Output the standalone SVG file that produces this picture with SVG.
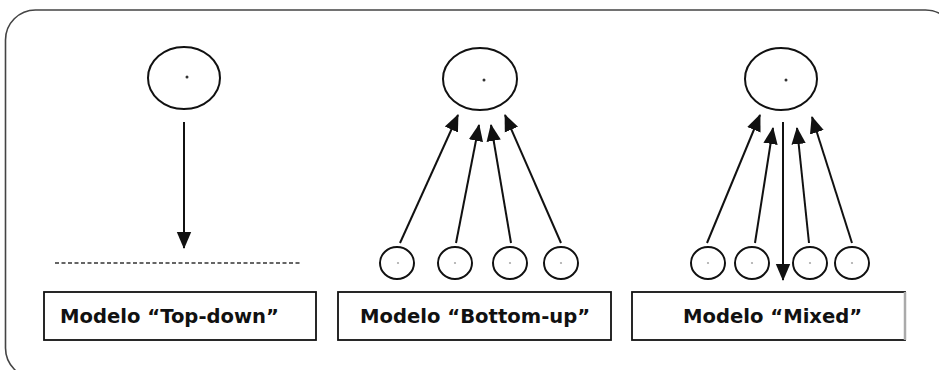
<svg xmlns="http://www.w3.org/2000/svg" width="939" height="370" viewBox="0 0 939 370">
<style>
.frame{fill:none;stroke:#444;stroke-width:1.6}
.node{fill:none;stroke:#111;stroke-width:2}
.dot{fill:#333}
.sdot{fill:#aaa}
.box{fill:#fff;stroke:#111;stroke-width:1.8}
.lbl{font-family:"DejaVu Sans",Verdana,sans-serif;font-weight:bold;font-size:19.6px;fill:#111}
.conn{stroke:#111;stroke-width:2;fill:none;marker-end:url(#ah)}
.dash{stroke:#333;stroke-width:1.4;stroke-dasharray:4 2.5}
</style>
<defs>
<marker id="ah" markerUnits="userSpaceOnUse" markerWidth="17" markerHeight="17" viewBox="0 0 17 16" refX="16" refY="8" orient="auto">
<path d="M0,0.8 L17,8 L0,15.2 Z" fill="#111"/>
</marker>
</defs>
<rect class="frame" x="5.5" y="10" width="950" height="368" rx="30"/>

<g id="topdown">
<g id="td-root"><ellipse class="node" cx="184" cy="78" rx="36" ry="31"/><circle class="dot" cx="187" cy="77" r="1.5"/></g>
<line class="dash" x1="55" y1="263" x2="302" y2="263"/>
<g id="td-label"><rect class="box" x="44" y="292" width="272" height="48"/><text class="lbl" x="60" y="323">Modelo “Top-down”</text></g>
</g>

<g id="bottomup">
<g id="bu-root"><ellipse class="node" cx="480" cy="79" rx="37" ry="31"/><circle class="dot" cx="484" cy="80" r="1.5"/></g>
<g id="bu-c1"><ellipse class="node" cx="397" cy="263" rx="17" ry="16"/><circle class="sdot" cx="398" cy="263" r="1.1"/></g>
<g id="bu-c2"><ellipse class="node" cx="455" cy="263" rx="17" ry="16"/><circle class="sdot" cx="455" cy="263" r="1.1"/></g>
<g id="bu-c3"><ellipse class="node" cx="510" cy="263" rx="17" ry="16"/><circle class="sdot" cx="510" cy="263" r="1.1"/></g>
<g id="bu-c4"><ellipse class="node" cx="561" cy="263" rx="17" ry="16"/><circle class="sdot" cx="561" cy="263" r="1.1"/></g>
<g id="bu-label"><rect class="box" x="338" y="292" width="273" height="48"/><text class="lbl" x="360" y="323">Modelo “Bottom-up”</text></g>
</g>

<g id="mixed">
<g id="mx-root"><ellipse class="node" cx="781" cy="79" rx="36" ry="31"/><circle class="dot" cx="786" cy="80" r="1.5"/></g>
<g id="mx-c1"><ellipse class="node" cx="708" cy="263" rx="17" ry="16"/><circle class="sdot" cx="708" cy="263" r="1.1"/></g>
<g id="mx-c2"><ellipse class="node" cx="752" cy="263" rx="17" ry="16"/><circle class="sdot" cx="752" cy="263" r="1.1"/></g>
<g id="mx-c3"><ellipse class="node" cx="810" cy="263" rx="17" ry="16"/><circle class="sdot" cx="810" cy="263" r="1.1"/></g>
<g id="mx-c4"><ellipse class="node" cx="852" cy="263" rx="17" ry="16"/><circle class="sdot" cx="852" cy="263" r="1.1"/></g>
<g id="mx-label"><rect class="box" x="632" y="292" width="273" height="48"/><line x1="905" y1="292" x2="905" y2="340" stroke="#aaa" stroke-width="2.5"/><text class="lbl" x="683" y="323">Modelo “Mixed”</text></g>
</g>

<g id="connectors">
<line class="conn" x1="184" y1="122" x2="184" y2="248"/>
<line class="conn" x1="400" y1="243" x2="458" y2="115"/>
<line class="conn" x1="456" y1="243" x2="479" y2="125"/>
<line class="conn" x1="511" y1="243" x2="491" y2="125"/>
<line class="conn" x1="561" y1="243" x2="505" y2="115"/>
<line class="conn" x1="783" y1="122" x2="783" y2="280"/>
<line class="conn" x1="707" y1="243" x2="760" y2="115"/>
<line class="conn" x1="755" y1="243" x2="773" y2="128"/>
<line class="conn" x1="809" y1="243" x2="797" y2="128"/>
<line class="conn" x1="852" y1="243" x2="812" y2="117"/>
</g>
</svg>
